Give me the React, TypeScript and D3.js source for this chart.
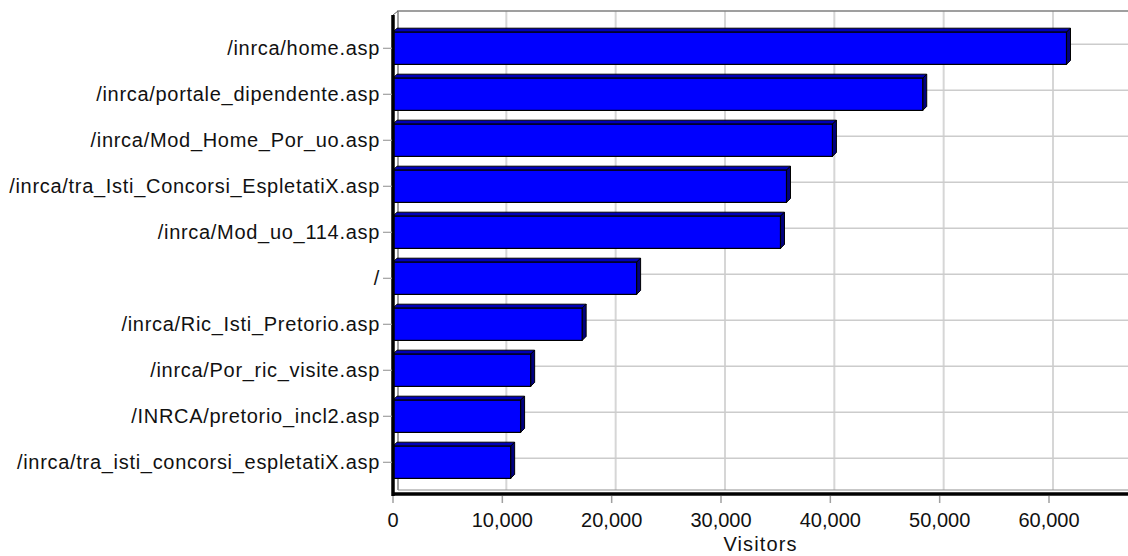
import React, { useEffect, useRef } from 'react';
import * as d3 from 'd3';

const pages = [
  '/inrca/home.asp',
  '/inrca/portale_dipendente.asp',
  '/inrca/Mod_Home_Por_uo.asp',
  '/inrca/tra_Isti_Concorsi_EspletatiX.asp',
  '/inrca/Mod_uo_114.asp',
  '/',
  '/inrca/Ric_Isti_Pretorio.asp',
  '/inrca/Por_ric_visite.asp',
  '/INRCA/pretorio_incl2.asp',
  '/inrca/tra_isti_concorsi_espletatiX.asp',
];
const visitors = [61600, 48450, 40190, 35990, 35440, 22280, 17300, 12590, 11670, 10760];
const xTicks = [0, 10000, 20000, 30000, 40000, 50000, 60000];

const W = 1128;
const H = 556;
const DEPTH = 4;
const FONT = 'Arial, "Liberation Sans", sans-serif';

const App: React.FC = () => {
  const svgRef = useRef<SVGSVGElement>(null);

  useEffect(() => {
    if (!svgRef.current) return;
    const svg = d3.select(svgRef.current);
    svg.selectAll('*').remove();

    const left = 393;
    const right = W;
    const top = 15;
    const bottom = 494;

    const x = d3.scaleLinear().domain([0, 60000]).range([left, 1049]);
    const y = d3.scaleBand<string>().domain(pages).range([25.3, 485.3]).paddingInner(0.3).paddingOuter(0.15);
    const bh = y.bandwidth();

    // back wall
    svg.append('rect')
      .attr('x', left + DEPTH).attr('y', top - DEPTH)
      .attr('width', right - left - DEPTH).attr('height', bottom - top)
      .attr('fill', '#fff');

    // vertical grid
    svg.append('g').selectAll('line').data(xTicks.slice(1)).join('line')
      .attr('x1', d => x(d) + DEPTH).attr('x2', d => x(d) + DEPTH)
      .attr('y1', top - DEPTH).attr('y2', bottom - DEPTH)
      .attr('stroke', '#d6d6d6').attr('stroke-width', 2);

    // horizontal grid
    svg.append('g').selectAll('line').data(pages).join('line')
      .attr('x1', left + DEPTH).attr('x2', right)
      .attr('y1', d => y(d)! + bh / 2 - DEPTH).attr('y2', d => y(d)! + bh / 2 - DEPTH)
      .attr('stroke', '#cccccc').attr('stroke-width', 1.5);

    // back wall border
    svg.append('path')
      .attr('d', `M${left + DEPTH + 1},${bottom - DEPTH} V${top - DEPTH} H${right}`)
      .attr('fill', 'none').attr('stroke', '#808080').attr('stroke-width', 1.5);
    svg.append('path')
      .attr('d', `M${left + DEPTH + 1},${bottom - DEPTH} H${right}`)
      .attr('fill', 'none').attr('stroke', '#909090').attr('stroke-width', 1.2);
    svg.append('path')
      .attr('d', `M${left},${top} L${left + DEPTH + 1},${top - DEPTH}`)
      .attr('fill', 'none').attr('stroke', '#606060').attr('stroke-width', 1);

    // bars
    const bars = svg.append('g').selectAll('g').data(pages).join('g');
    bars.append('path')
      .attr('d', (d, i) => {
        const y0 = y(d)!;
        const x1 = x(visitors[i]);
        return `M${left},${y0} L${left + DEPTH},${y0 - DEPTH} H${x1 + DEPTH} L${x1},${y0} Z`;
      })
      .attr('fill', '#0000b8').attr('stroke', '#000').attr('stroke-width', 1);
    bars.append('path')
      .attr('d', (d, i) => {
        const y0 = y(d)!;
        const x1 = x(visitors[i]);
        return `M${x1},${y0} L${x1 + DEPTH},${y0 - DEPTH} V${y0 + bh - DEPTH} L${x1},${y0 + bh} Z`;
      })
      .attr('fill', '#000080').attr('stroke', '#000').attr('stroke-width', 1);
    bars.append('rect')
      .attr('x', left).attr('y', d => y(d)!)
      .attr('width', (d, i) => x(visitors[i]) - left).attr('height', bh)
      .attr('fill', '#0000ff').attr('stroke', '#000').attr('stroke-width', 1.2);

    // front axes
    svg.append('line')
      .attr('x1', left).attr('x2', left).attr('y1', top).attr('y2', bottom + 2)
      .attr('stroke', '#000').attr('stroke-width', 3.5);
    svg.append('line')
      .attr('x1', left).attr('x2', right).attr('y1', bottom).attr('y2', bottom)
      .attr('stroke', '#000').attr('stroke-width', 3.5);

    // x ticks + labels
    const xg = svg.append('g');
    xg.selectAll('line').data(xTicks).join('line')
      .attr('x1', d => x(d)).attr('x2', d => x(d))
      .attr('y1', bottom + 2).attr('y2', bottom + 9)
      .attr('stroke', '#a0a0a0').attr('stroke-width', 1.5);
    xg.selectAll('text').data(xTicks).join('text')
      .attr('x', d => x(d)).attr('y', 527)
      .attr('text-anchor', 'middle')
      .attr('font-family', FONT).attr('font-size', 20).attr('fill', '#111')
      .text(d => d3.format(',')(d));

    svg.append('text')
      .attr('x', (left + right) / 2).attr('y', 551)
      .attr('text-anchor', 'middle')
      .attr('font-family', FONT).attr('font-size', 20).attr('fill', '#111')
      .attr('letter-spacing', 1.1)
      .text('Visitors');

    // y ticks + labels
    const yg = svg.append('g');
    yg.selectAll('line').data(pages).join('line')
      .attr('x1', 383).attr('x2', left - 1)
      .attr('y1', d => y(d)! + bh / 2).attr('y2', d => y(d)! + bh / 2)
      .attr('stroke', '#a0a0a0').attr('stroke-width', 1.2);
    yg.selectAll('text').data(pages).join('text')
      .attr('x', 380).attr('y', d => y(d)! + bh / 2)
      .attr('dy', '0.35em')
      .attr('text-anchor', 'end')
      .attr('font-family', FONT).attr('font-size', 20).attr('fill', '#111')
      .attr('letter-spacing', 0.7)
      .text(d => d);
  }, []);

  return (
    <div style={{ position: 'absolute', left: 0, top: 0, width: W, height: H, background: '#fff' }}>
      <svg ref={svgRef} width={W} height={H} />
    </div>
  );
};

export default App;
